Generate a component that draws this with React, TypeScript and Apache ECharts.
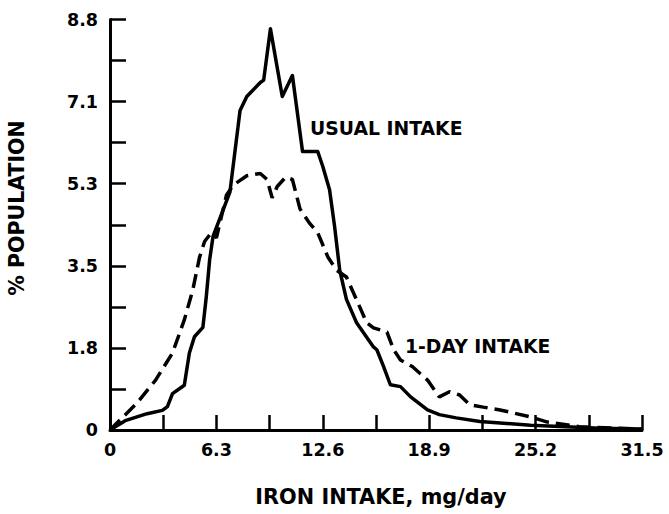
import React, { useEffect, useRef } from "react";
import * as echarts from "echarts";

const usualX = [0, 0.9, 2.2, 3.1, 3.4, 3.7, 4.4, 4.7, 5.0, 5.5, 5.7, 5.9, 6.1, 7.1, 7.7, 8.1, 8.9, 9.1, 9.5, 10.2, 10.8, 11.4, 12.3, 12.6, 13.0, 13.3, 13.6, 14.0, 14.6, 15.6, 15.8, 16.2, 16.6, 17.2, 17.8, 18.8, 19.5, 20.5, 21.9, 23.1, 24.9, 27.0, 29.0, 31.5];
const usualY = [0, 0.2, 0.35, 0.42, 0.5, 0.78, 0.96, 1.65, 2.0, 2.2, 2.85, 3.65, 4.15, 5.1, 6.85, 7.15, 7.45, 7.5, 8.6, 7.15, 7.6, 5.97, 5.97, 5.65, 5.15, 4.36, 3.43, 2.8, 2.3, 1.78, 1.72, 1.36, 0.97, 0.93, 0.71, 0.43, 0.33, 0.26, 0.18, 0.15, 0.1, 0.07, 0.04, 0.02];

const oneDayX = [0, 1.6, 2.7, 3.7, 4.4, 4.9, 5.3, 5.6, 6.0, 6.3, 6.9, 7.3, 8.1, 8.9, 9.3, 9.6, 9.9, 10.4, 10.8, 11.25, 11.8, 12.3, 12.9, 13.4, 14.0, 14.6, 15.2, 15.6, 16.4, 16.8, 17.2, 17.9, 18.8, 19.5, 20.1, 20.7, 21.3, 22.1, 23.1, 24.9, 25.9, 27.8, 31.5];
const oneDayY = [0, 0.58, 1.07, 1.65, 2.36, 3.0, 3.7, 4.04, 4.23, 4.12, 5.04, 5.25, 5.45, 5.5, 5.37, 4.98, 5.22, 5.42, 5.37, 4.74, 4.44, 4.23, 3.71, 3.43, 3.28, 2.79, 2.3, 2.19, 2.1, 1.72, 1.5, 1.36, 1.07, 0.71, 0.82, 0.75, 0.54, 0.49, 0.43, 0.28, 0.17, 0.07, 0.02];

const xTickLabels = ["0", "6.3", "12.6", "18.9", "25.2", "31.5"];
const yTickLabels = ["0", "1.8", "3.5", "5.3", "7.1", "8.8"];

const xTitle = "IRON INTAKE, mg/day";
const yTitle = "% POPULATION";
const usualLabel = "USUAL INTAKE";
const oneDayLabel = "1-DAY INTAKE";

const FONT = "DejaVu Sans";

export default function App() {
  const ref = useRef<HTMLDivElement>(null);
  useEffect(() => {
    if (!ref.current) return;
    const chart = echarts.init(ref.current, null, { renderer: "svg" });
    const pairs = (xs: number[], ys: number[]) => xs.map((x, i) => [x, ys[i]]);
    chart.setOption({
      animation: false,
      backgroundColor: "#fff",
      grid: { left: 110, right: 27, top: 19.5, bottom: 84 },
      xAxis: {
        type: "value",
        min: 0,
        max: 31.5,
        interval: 3.15,
        axisLine: { show: true, lineStyle: { color: "#000", width: 3 } },
        axisTick: { show: true, inside: true, length: 15, lineStyle: { color: "#000", width: 2.5 } },
        splitLine: { show: false },
        axisLabel: {
          margin: 11,
          color: "#000",
          fontFamily: FONT,
          fontWeight: "bold",
          fontSize: 17.5,
          formatter: (_v: number, i: number) => (i % 2 === 0 ? xTickLabels[i / 2] ?? "" : ""),
        },
      },
      yAxis: {
        type: "value",
        min: 0,
        max: 8.8,
        interval: 0.88,
        axisLine: { show: true, lineStyle: { color: "#000", width: 3 } },
        axisTick: { show: true, inside: true, length: 16, lineStyle: { color: "#000", width: 2.5 } },
        splitLine: { show: false },
        axisLabel: {
          margin: 12,
          color: "#000",
          fontFamily: FONT,
          fontWeight: "bold",
          fontSize: 17.5,
          formatter: (_v: number, i: number) => (i % 2 === 0 ? yTickLabels[i / 2] ?? "" : ""),
        },
      },
      series: [
        {
          name: usualLabel,
          type: "line",
          data: pairs(usualX, usualY),
          showSymbol: false,
          symbol: "none",
          lineStyle: { color: "#000", width: 3.5, join: "round" },
        },
        {
          name: oneDayLabel,
          type: "line",
          data: pairs(oneDayX, oneDayY),
          showSymbol: false,
          symbol: "none",
          lineStyle: { color: "#000", width: 3.5, type: [14, 7], cap: "butt" },
        },
      ],
      graphic: [
        {
          type: "text",
          x: 381,
          y: 497,
          style: { text: xTitle, fill: "#000", font: `bold 20.8px "${FONT}"`, align: "center", verticalAlign: "middle" },
        },
        {
          type: "text",
          x: 17,
          y: 208,
          rotation: Math.PI / 2,
          style: { text: yTitle, fill: "#000", font: `bold 20.5px "${FONT}"`, align: "center", verticalAlign: "middle" },
        },
        {
          type: "text",
          x: 310,
          y: 128,
          style: { text: usualLabel, fill: "#000", font: `bold 18.8px "${FONT}"`, verticalAlign: "middle" },
        },
        {
          type: "text",
          x: 405,
          y: 346,
          style: { text: oneDayLabel, fill: "#000", font: `bold 18.8px "${FONT}"`, verticalAlign: "middle" },
        },
      ],
    });
    return () => chart.dispose();
  }, []);
  return <div ref={ref} style={{ position: "fixed", left: 0, top: 0, width: 669, height: 514 }} />;
}
